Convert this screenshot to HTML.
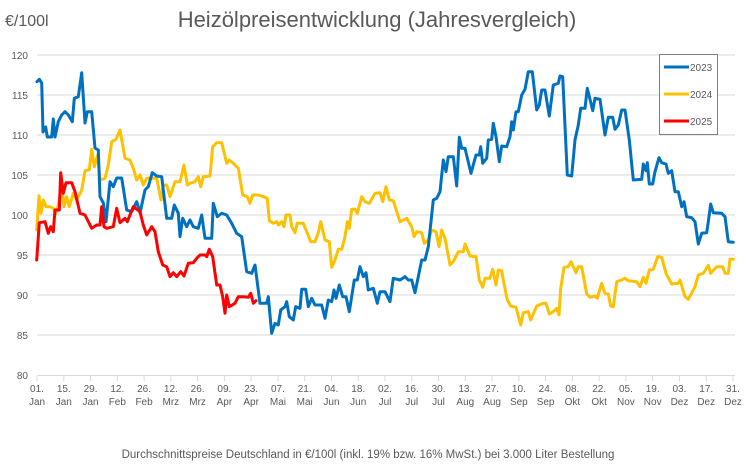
<!DOCTYPE html>
<html><head><meta charset="utf-8"><style>
html,body{margin:0;padding:0;background:#fff;}
svg{display:block;font-family:"Liberation Sans",sans-serif;}
</style></head><body>
<svg width="754" height="465" viewBox="0 0 754 465" xmlns="http://www.w3.org/2000/svg">
<rect width="754" height="465" fill="#fff"/>
<text x="377" y="27" text-anchor="middle" font-size="22" fill="#595959">Heizölpreisentwicklung (Jahresvergleich)</text>
<text x="5" y="26" font-size="16" fill="#595959">€/100l</text>
<g stroke="#d9d9d9" stroke-width="1">
<line x1="37" x2="735" y1="55" y2="55"/><line x1="37" x2="735" y1="95" y2="95"/>
<line x1="37" x2="735" y1="135" y2="135"/><line x1="37" x2="735" y1="175" y2="175"/>
<line x1="37" x2="735" y1="215" y2="215"/><line x1="37" x2="735" y1="255" y2="255"/>
<line x1="37" x2="735" y1="295" y2="295"/><line x1="37" x2="735" y1="335" y2="335"/>
<line x1="37" x2="735" y1="375.5" y2="375.5"/>
</g>
<g stroke="#d9d9d9" stroke-width="1" id="ticks"></g>
<g font-size="10" fill="#595959" text-anchor="end">
<text x="28" y="59">120</text><text x="28" y="99">115</text><text x="28" y="139">110</text>
<text x="28" y="179">105</text><text x="28" y="219">100</text><text x="28" y="259">95</text>
<text x="28" y="299">90</text><text x="28" y="339">85</text><text x="28" y="379">80</text>
</g>
<g font-size="10" fill="#595959" text-anchor="middle" id="xl"></g>
<g fill="none" stroke-width="3" stroke-linejoin="round" stroke-linecap="round">
<polyline stroke="#FFC000" points="36.7,230 39,195.7 41,213.3 43.3,200 46,206.7 50,206.7 53.3,208.3 56,213.3 58.3,205 61.7,185 64,206.7 66.7,196.7 69.3,206.7 73.3,193.3 76.7,200 81.7,190 85,170.7 89.3,170 91.7,149.3 94.3,166.7 97.7,155 100,180 105,178.3 108.3,165 111.7,141.7 116,139.3 120,130 125,158.3 130,160 133.3,168.3 136.7,180 140,175 143.3,185 146.7,178.3 156.7,178.3 161,200 163.3,185 166.7,185 170,196.7 175,181.7 180,181.7 184,165 187.3,185 190,183.3 195,181.7 198.3,176.7 200.7,186.7 203.3,176.7 210,176 212.7,146.7 216.7,142.7 221.7,142.7 226.7,163.3 229.3,160 233.3,163.3 238.3,168.3 242.7,195 247.3,196.7 250,203.3 252.7,195 258.3,195 263.3,196.7 267.3,198.3 269.3,220.7 273.3,223.3 276.7,221.7 278.3,225 281.7,221.7 284,226.7 286,215 290,215 291.7,226.7 295,232.7 297.3,223.3 303.3,223.3 306.7,231.7 310.7,241.7 315,241.7 318.3,232.7 320.7,221.7 325,240 329.3,241.7 331.7,267.3 335,260 338.3,249.3 341.7,249.3 345,236.7 347.3,221.7 349.3,228.3 351.7,209.3 355,209.3 357.3,213.3 361.7,196.7 365,201.7 369.3,203.3 375,193.3 380,192.7 382.7,201.7 386,186.7 389.3,200 393.3,200.7 400,221.7 406.7,218.3 411.7,226.7 414,236.7 416.7,231.7 421.7,232.7 424.3,243.3 428.3,240 431.7,230 436,231.7 439,246.7 441.7,230 445,238.3 450,265 453.3,261.7 458.3,251.7 463.3,251.7 465,244 470,256 476,256.7 479.3,280 482.7,287.3 485,278.3 490,278.3 492.7,269.3 496,285 498.3,270 501.7,270.7 503.3,280 507.3,300 510.7,306 516,307.3 520.7,325 523.3,312.7 528.3,311.7 530.7,320 536.7,306 543.3,303.3 546,303.3 549.3,314 553.3,311.7 556.7,308.3 559,315 560.7,288.3 564,267.3 568.3,266.7 571,261.7 576,272.7 578.3,266.7 581.7,266.7 586.7,294 590,297.3 595,296 597.3,298.3 601.7,283.3 605,293.3 608.3,294 610.7,306 613.3,306.7 616.7,281.7 621.7,280 625,278.3 628.3,280.7 636.7,281.7 640,286.7 643.3,277.3 646,283.3 649.3,270 653.3,269.3 657.7,256.7 661.7,257.3 666,273.3 671.7,284 678.3,283.3 680,280 685,296.7 688.3,299.3 695,286.7 698.3,275 703.3,273.3 708.3,265.3 710.7,273.3 716.7,266.7 722.7,266.7 725,273.3 728.3,273.3 730,259.3 733.3,259.3"/>
<polyline stroke="#0070C0" points="37,81.7 39.3,79.3 41.7,83 43,132 45.7,127 47.3,137 51.7,137 53.3,119 55,137 58.3,121.7 61.7,115 65,111.7 68.3,115 72.3,121.7 74.3,98.3 78.3,96.7 81.7,72.7 85,123 87.3,111.7 91.7,111.7 95,148 98.3,150 100,196.7 103.3,203 106,221.7 110,181.7 113.3,186.7 116.7,178 121.7,178 126.7,210 131.7,211.7 136.7,201.7 140,213 145,190 148.3,186.7 152.3,172.7 156.7,176 161.7,176.7 166.7,218.3 171.7,218.3 174.3,205 178.3,213.3 180,236.7 182.7,218.3 186.7,226.7 190,220 193.3,226.7 198.3,228.3 201.7,215 205,238.3 211.7,238.3 213.3,203.3 217.3,216.7 221.7,213.3 226.7,215 231.7,223.3 236.7,233.3 241.7,236.7 246.7,271.7 251.7,273.3 255,265 260,303.3 266.7,303.3 268.3,296.7 271.7,333.3 275,323.3 278.3,325 280.7,310 285,306.7 286.7,301.7 289.3,316.7 293.3,320 295.7,306.7 300,308.3 301.7,289.3 305.7,289.3 308.3,306.7 311.7,298.3 315,305 321.7,305 325,318.3 328.3,300 331.7,301.7 334,290 336,298.3 339.3,285 342.7,296.7 346,296.7 349.3,311.7 354.3,280 357.3,280 360,266.7 363.3,276.7 366,272.7 368.3,290 373.3,288.3 377.3,303.3 380,291.7 385,291.7 390,301.7 393.3,278.3 400,280 405,276.7 408.3,280 411.7,280 415,292.7 418.3,276.7 421.7,260 425,260 428.3,246.7 433.3,200 436.7,198.3 440,191.7 443.3,160 446,171.7 448.3,156.7 453.3,156.7 456.7,186 459.3,137.3 461.7,148.3 465,148.3 471,173.3 476,155 479.3,155 480.7,146.7 482.7,163.3 486.7,158.3 488.3,140 491.7,139.3 493.3,123.3 496,136.7 499.3,161.7 501.7,146 506.7,146.7 510,136.7 511.7,121.7 513.3,130 516,111.7 518.3,111.7 521.7,95 525,89.3 528.3,71.7 532.3,71.7 536.7,110 539.3,105 541.7,90 545,90 549.3,116 553.3,85 558.3,83.3 560,76 562.7,76.7 567.3,175 571.7,176 575,140 578.3,125 580.7,108.3 585,108.3 587.3,88.3 590,99.3 592.7,110.7 595,98.3 600,99.3 605,135 608.3,117.3 612.7,117.3 615,129.3 618.3,125 621.7,110 625,110 629.3,140 633.3,180 641.7,179.3 643.3,164 646,170.7 647.3,162.7 649.3,184 652.7,184 655,171.7 659,157.7 661.7,162.7 666,164 668.3,173.3 671.7,170.7 675,191.7 678.3,191.7 681.7,206.7 684,201.7 686.7,216.7 691.7,217.7 695,221.7 698.3,244 701.7,233.3 706.7,232.7 708.3,221.7 710.7,204 713.3,212.7 721.7,213.3 725,216.7 728.3,241.7 733.3,242.3"/>
<polyline stroke="#FF0000" points="36.7,260 39.3,222.7 45,221.7 48.3,233.3 50.7,226.7 53.3,231.7 55,210 59.3,210 60.7,172.7 63.3,193.3 66,182.7 71.7,182.7 75,191.7 80,213.3 85,215 91.7,228.3 96.7,225 100,225 101.7,206.7 104,226.7 106.7,228.3 113.3,226.7 116.7,208.3 120,222.7 125,218.3 127.3,221.7 133.3,206.7 140,211.7 143.3,225 146.7,235 151.7,226.7 155,231.7 158.3,251.7 162.7,265 166.7,266.7 170,276.7 173.3,272.7 176.7,276.7 180.7,271.7 184,276 188.3,263.3 193.3,262.7 196.7,258.3 200,255 205,255 206.7,256.7 209.3,249.3 212.7,256.7 216.7,285 220,285 222.7,296.7 225,313.3 226.7,295 229.3,306.7 235,303.3 238.3,296.7 243.3,296.7 248.3,297.3 250.7,293.3 253.3,303.3 256,300.7"/>
</g>
<rect x="659.5" y="54.5" width="58" height="80" fill="#fff" stroke="#7f7f7f" stroke-width="1"/>
<g stroke-width="3">
<line x1="664" x2="689" y1="67" y2="67" stroke="#0070C0"/>
<line x1="664" x2="689" y1="94" y2="94" stroke="#FFC000"/>
<line x1="664" x2="689" y1="121" y2="121" stroke="#FF0000"/>
</g>
<g font-size="10" fill="#595959">
<text x="690" y="71">2023</text><text x="690" y="98">2024</text><text x="690" y="125">2025</text>
</g>
<text x="368" y="458" text-anchor="middle" font-size="11.5" fill="#595959">Durchschnittspreise Deutschland in €/100l (inkl. 19% bzw. 16%  MwSt.) bei 3.000 Liter Bestellung</text>
<script>
var d=["01.","15.","29.","12.","26.","12.","26.","09.","23.","07.","21.","04.","18.","02.","16.","30.","13.","27.","10.","24.","08.","22.","05.","19.","03.","17.","31."];
var m=["Jan","Jan","Jan","Feb","Feb","Mrz","Mrz","Apr","Apr","Mai","Mai","Jun","Jun","Jul","Jul","Jul","Aug","Aug","Sep","Sep","Okt","Okt","Nov","Nov","Dez","Dez","Dez"];
var ns="http://www.w3.org/2000/svg",xl=document.getElementById("xl"),tk=document.getElementById("ticks");
for(var i=0;i<27;i++){var x=37+i*(696/26);
var l=document.createElementNS(ns,"line");l.setAttribute("x1",x);l.setAttribute("x2",x);l.setAttribute("y1",376);l.setAttribute("y2",381);tk.appendChild(l);
var t=document.createElementNS(ns,"text");t.setAttribute("x",x);t.setAttribute("y",392);t.textContent=d[i];xl.appendChild(t);
var t2=document.createElementNS(ns,"text");t2.setAttribute("x",x);t2.setAttribute("y",405);t2.textContent=m[i];xl.appendChild(t2);}
</script>
</svg>
</body></html>
